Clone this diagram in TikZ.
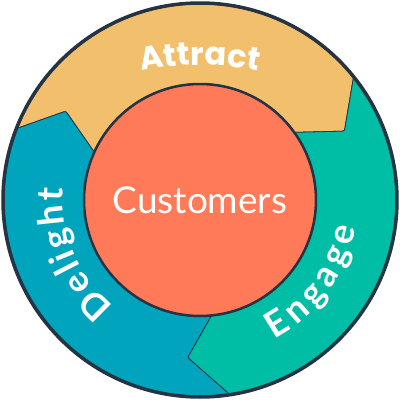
\documentclass[tikz,border=0pt]{standalone}
\usepackage{fontspec}
\setmainfont{Lato}
\newfontfamily\popp{Poppins}
\usetikzlibrary{calc,decorations.text}
\definecolor{cyel}{HTML}{F2C06C}
\definecolor{cgrn}{HTML}{00BDA5}
\definecolor{cblu}{HTML}{00A4BD}
\definecolor{corg}{HTML}{FF7A59}
\definecolor{cdark}{HTML}{253342}
\tikzset{
  seg/.style={draw=cdark, line width=0.8pt, line join=round},
  lbl/.style={decorate, decoration={text along path, text color=white}},
}
\begin{document}
\begin{tikzpicture}[x=1pt,y=1pt]
\useasboundingbox (-200,-200) rectangle (200,200);
\fill[white] (-200,-200) rectangle (200,200);
% key points of the three chevrons
\coordinate (yo) at (38.5:196);  \coordinate (yc) at (25.5:160);  \coordinate (yi) at (35.5:116.5);
\coordinate (go) at (-81.5:196); \coordinate (gc) at (-94.5:158); \coordinate (gi) at (-84.5:116.5);
\coordinate (bo) at (158.5:196); \coordinate (bc) at (146.5:161); \coordinate (bi) at (155.5:116.5);
% Attract
\path[seg, fill=cyel] (yo) arc[start angle=38.5, end angle=158.5, radius=196]
  -- ($(bc)!4pt!(bo)$) .. controls (bc) .. ($(bc)!4pt!(bi)$) -- (bi)
  arc[start angle=155.5, end angle=35.5, radius=116.5]
  -- ($(yc)!4pt!(yi)$) .. controls (yc) .. ($(yc)!4pt!(yo)$) -- cycle;
% Engage
\path[seg, fill=cgrn] (go) arc[start angle=-81.5, end angle=38.5, radius=196]
  -- ($(yc)!4pt!(yo)$) .. controls (yc) .. ($(yc)!4pt!(yi)$) -- (yi)
  arc[start angle=35.5, end angle=-84.5, radius=116.5]
  -- ($(gc)!4pt!(gi)$) .. controls (gc) .. ($(gc)!4pt!(go)$) -- cycle;
% Delight
\path[seg, fill=cblu] (bo) arc[start angle=158.5, end angle=278.5, radius=196]
  -- ($(gc)!4pt!(go)$) .. controls (gc) .. ($(gc)!4pt!(gi)$) -- (gi)
  arc[start angle=275.5, end angle=155.5, radius=116.5]
  -- ($(bc)!4pt!(bi)$) .. controls (bc) .. ($(bc)!4pt!(bo)$) -- cycle;
% outer ring border
\draw[cdark, line width=3.5pt] (0,0) circle[radius=197];
% centre
\draw[cdark, fill=corg, line width=2.5pt] (0,0) circle[radius=116];
\node[text=white, font=\fontsize{37}{37}\selectfont, anchor=base, inner sep=0pt] (cust) at (0,-13) {Customers};
% curved labels
\begin{scope}[shift={(0,-145)}]
\path[lbl, decoration={text align=center, text={|\popp\bfseries\fontsize{32}{32}\selectfont|Attract}}]
  (115:280) arc[start angle=115, end angle=65, radius=280];
\end{scope}
\path[lbl, decoration={text align=fit to path, text={|\bfseries\fontsize{36}{36}\selectfont|Delight}}]
  (231:137) arc[start angle=231, end angle=175, radius=137];
\path[lbl, decoration={text align=fit to path, text={|\bfseries\fontsize{36}{36}\selectfont|Engage}}]
  (-62:158) arc[start angle=-62, end angle=-10, radius=158];
\end{tikzpicture}
\end{document}
